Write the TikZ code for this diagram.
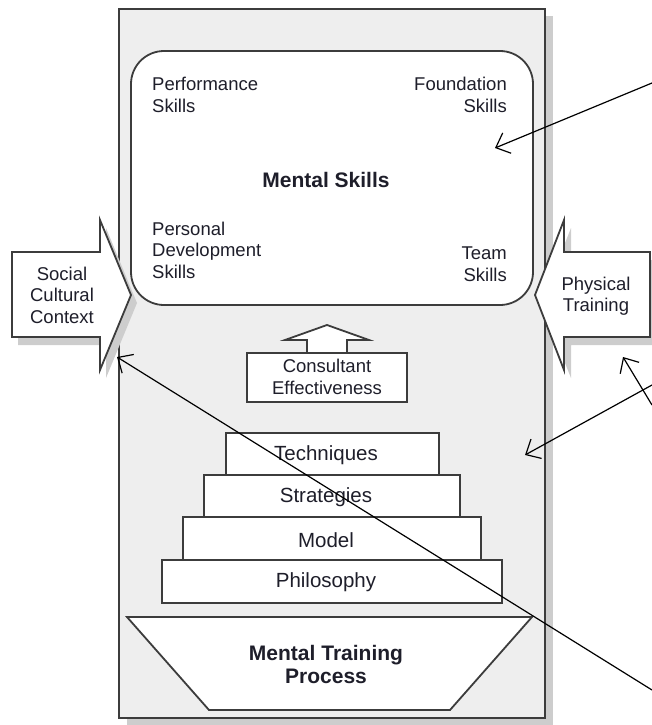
\documentclass[tikz,border=0pt]{standalone}
\usepackage{fontspec}
\setmainfont{Liberation Sans}
\usetikzlibrary{arrows.meta}
\definecolor{bordc}{HTML}{3C3C3C}
\definecolor{panelc}{HTML}{EEEEEE}
\definecolor{shadc}{HTML}{CDCDCD}
\definecolor{txtc}{HTML}{1E1E2A}
\tikzset{
  outline/.style={draw=bordc, line width=1.8pt, line join=miter},
  whitebox/.style={outline, fill=white},
  lbl/.style={inner sep=0pt, text=txtc, font=\fontsize{18.5}{21.5}\selectfont},
  steplbl/.style={inner sep=0pt, text=txtc, font=\fontsize{20.5}{23}\selectfont},
  boldlbl/.style={inner sep=0pt, text=txtc, font=\fontsize{21}{23}\selectfont\bfseries},
  pointer/.style={draw=black, line width=1.2pt, -{Straight Barb[length=12pt,width=22pt,line width=1.2pt]}}
}
\begin{document}
\begin{tikzpicture}[x=1pt,y=-1pt]
\useasboundingbox (0,0) rectangle (652,725);
% main panel with shadow
\fill[shadc] (127,16) rectangle (553,725);
\path[outline, fill=panelc] (119,9) rectangle (545,718);
% mental skills rounded box
\path[whitebox, rounded corners=33pt] (131,51) rectangle (533,305);
% side arrow shadows
\fill[shadc] (18,260) -- (106,260) -- (106,228) -- (137,303) -- (106,378) -- (106,345) -- (18,345) -- cycle;
\fill[shadc] (652,260) -- (571,260) -- (571,228) -- (541,303) -- (571,378) -- (571,345) -- (652,345) -- cycle;
% side arrows
\path[whitebox] (12,252) -- (100,252) -- (100,220) -- (131,295) -- (100,370) -- (100,337) -- (12,337) -- cycle;
\path[whitebox] (650,252) -- (564,252) -- (564,220) -- (535,295) -- (564,370) -- (564,337) -- (650,337) -- cycle;
% consultant effectiveness arrow + box
\path[whitebox] (307,353) -- (307,340) -- (285,340) -- (327,325) -- (369,340) -- (347,340) -- (347,353) -- cycle;
\path[whitebox] (247,353) rectangle (407,402);
% steps
\path[whitebox] (226,433) rectangle (439,475);
\path[whitebox] (204,475) rectangle (460,517);
\path[whitebox] (183,517) rectangle (481,560);
\path[whitebox] (162,560) rectangle (502,603);
% funnel
\path[whitebox] (127,617) -- (532,617) -- (450,710) -- (209,710) -- cycle;
% texts
\node[lbl, anchor=west, align=left] (perf) at (152,95) {Performance\\Skills};
\node[lbl, anchor=east, align=right] (found) at (507,95) {Foundation\\Skills};
\node[boldlbl] (mental) at (326,180) {Mental Skills};
\node[lbl, anchor=west, align=left] (pers) at (152,250) {Personal\\Development\\Skills};
\node[lbl, anchor=east, align=right] (team) at (507,264) {Team\\Skills};
\node[lbl, align=center] (social) at (62,295) {Social\\Cultural\\Context};
\node[lbl, align=center] (phys) at (596,296) {Physical\\Training};
\node[lbl, align=center] (consult) at (327,377) {Consultant\\Effectiveness};
\node[steplbl] (tech) at (326,455) {Techniques};
\node[steplbl] (strat) at (326,497) {Strategies};
\node[steplbl] (model) at (326,540) {Model};
\node[steplbl] (philo) at (326,582) {Philosophy};
\node[boldlbl, align=center] (mtp) at (326,664) {Mental Training\\Process};
% annotation pointers
\coordinate (s1) at (652,83);   \coordinate (t1) at (495,148);
\coordinate (s2) at (652,690);  \coordinate (t2) at (117,357);
\coordinate (s3) at (652,405);  \coordinate (t3) at (623,357);
\coordinate (s4) at (652,385);  \coordinate (t4) at (525,455);
\draw[pointer] (s1) -- (t1);
\draw[pointer] (s2) -- (t2);
\draw[pointer] (s3) -- (t3);
\draw[pointer] (s4) -- (t4);
\end{tikzpicture}
\end{document}
